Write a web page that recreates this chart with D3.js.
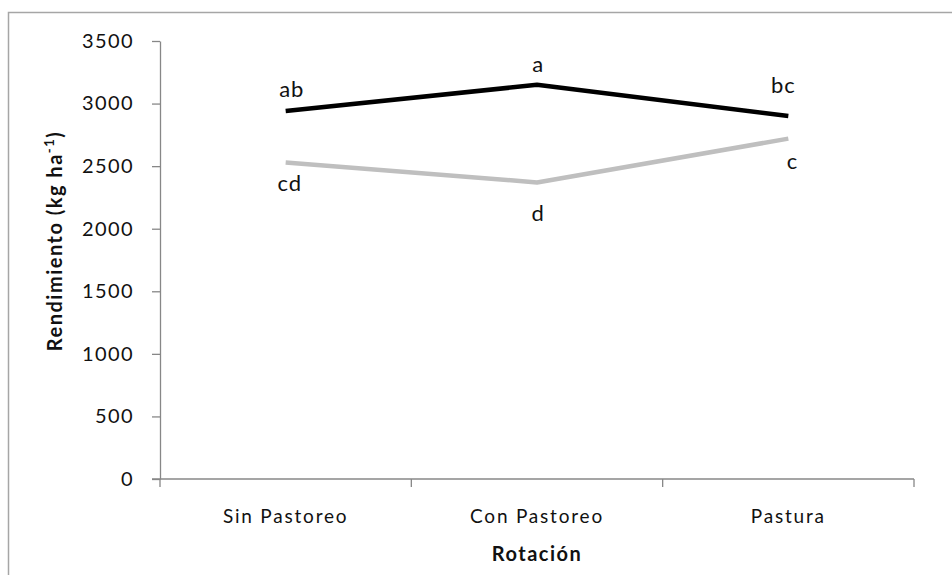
<!DOCTYPE html>
<html>
<head>
<meta charset="utf-8">
<script src="https://cdn.jsdelivr.net/npm/d3@7"></script>
<style>
  body { margin: 0; background: #fff; }
  svg { display: block; font-family: Lato, "Open Sans", sans-serif; }
</style>
</head>
<body>
<div id="chart"></div>
<script>
const width = 952;
const height = 575;

// data
const categories = ["Sin Pastoreo", "Con Pastoreo", "Pastura"];
const blackValues = [2940, 3150, 2900];
const grayValues = [2530, 2370, 2720];
const blackLetters = ["ab", "a", "bc"];
const grayLetters = ["cd", "d", "c"];
const yTicks = [0, 500, 1000, 1500, 2000, 2500, 3000, 3500];

const margin = { top: 41, left: 160, right: 38, bottom: 96 };

const svg = d3.select("#chart")
  .append("svg")
  .attr("width", width)
  .attr("height", height);

// outer frame
svg.append("rect")
  .attr("x", 8.5)
  .attr("y", 12.5)
  .attr("width", 960)
  .attr("height", 600)
  .attr("fill", "none")
  .attr("stroke", "#a6a6a6")
  .attr("stroke-width", 1.5);

const x = d3.scaleBand()
  .domain(categories)
  .range([margin.left, width - margin.right]);

const y = d3.scaleLinear()
  .domain([0, 3500])
  .range([height - margin.bottom, margin.top]);

// y axis
const yAxis = svg.append("g")
  .attr("transform", `translate(${margin.left},0)`)
  .call(d3.axisLeft(y).tickValues(yTicks).tickFormat(d3.format("d"))
    .tickSize(8).tickSizeOuter(0).tickPadding(18));
yAxis.selectAll("line, path").attr("stroke", "#878787").attr("stroke-width", 1.3);
yAxis.selectAll("text")
  .attr("font-size", 20)
  .attr("letter-spacing", 1.4)
  .attr("fill", "#111")
  .attr("font-family", "Lato, sans-serif");

// x axis: ticks at category boundaries
const xAxis = svg.append("g")
  .attr("transform", `translate(0,${y(0)})`);
xAxis.append("line")
  .attr("x1", x.range()[0] - 8)
  .attr("x2", x.range()[1])
  .attr("stroke", "#878787")
  .attr("stroke-width", 1.3);
const bounds = categories.map(c => x(c)).concat([x.range()[1]]);
xAxis.selectAll(".tk")
  .data(bounds)
  .enter()
  .append("line")
  .attr("x1", d => d)
  .attr("x2", d => d)
  .attr("y1", 0)
  .attr("y2", 8)
  .attr("stroke", "#878787")
  .attr("stroke-width", 1.3);
xAxis.selectAll(".lbl")
  .data(categories)
  .enter()
  .append("text")
  .attr("x", d => x(d) + x.bandwidth() / 2)
  .attr("y", 44)
  .attr("text-anchor", "middle")
  .attr("font-size", 19)
  .attr("letter-spacing", 1.8)
  .attr("fill", "#111")
  .text(d => d);

// axis titles
svg.append("text")
  .attr("x", (x.range()[0] + x.range()[1]) / 2)
  .attr("y", 561)
  .attr("text-anchor", "middle")
  .attr("font-size", 20)
  .attr("letter-spacing", 1.5)
  .attr("font-weight", "bold")
  .attr("fill", "#111")
  .text("Rotación");

const yTitle = svg.append("text")
  .attr("transform", "translate(62,241) rotate(-90)")
  .attr("text-anchor", "middle")
  .attr("font-size", 20)
  .attr("letter-spacing", 1.5)
  .attr("font-weight", "bold")
  .attr("fill", "#111");
yTitle.append("tspan").text("Rendimiento (kg ha");
yTitle.append("tspan").attr("font-size", 13).attr("dy", -8).text("-1");
yTitle.append("tspan").attr("dy", 8).text(")");

const cx = c => x(c) + x.bandwidth() / 2;
const line = d3.line()
  .x((d, i) => cx(categories[i]))
  .y(d => y(d));

svg.append("path")
  .datum(grayValues)
  .attr("d", line)
  .attr("fill", "none")
  .attr("stroke", "#bfbfbf")
  .attr("stroke-width", 4.5)
  .attr("stroke-linejoin", "round");

svg.append("path")
  .datum(blackValues)
  .attr("d", line)
  .attr("fill", "none")
  .attr("stroke", "#000")
  .attr("stroke-width", 4.5)
  .attr("stroke-linejoin", "round");

// significance letters, nudged as in the original
const blackDx = [6, 1, -5];
const blackDy = [-14, -13, -23];
const grayDx = [4, 1, 4];
const grayDy = [29, 39, 30];

svg.selectAll(".blk")
  .data(blackValues)
  .enter()
  .append("text")
  .attr("x", (d, i) => cx(categories[i]) + blackDx[i])
  .attr("y", (d, i) => y(d) + blackDy[i])
  .attr("text-anchor", "middle")
  .attr("font-size", 22)
  .attr("letter-spacing", 0.8)
  .attr("fill", "#111")
  .text((d, i) => blackLetters[i]);

svg.selectAll(".gry")
  .data(grayValues)
  .enter()
  .append("text")
  .attr("x", (d, i) => cx(categories[i]) + grayDx[i])
  .attr("y", (d, i) => y(d) + grayDy[i])
  .attr("text-anchor", "middle")
  .attr("font-size", 22)
  .attr("letter-spacing", 0.8)
  .attr("fill", "#111")
  .text((d, i) => grayLetters[i]);
</script>
</body>
</html>
